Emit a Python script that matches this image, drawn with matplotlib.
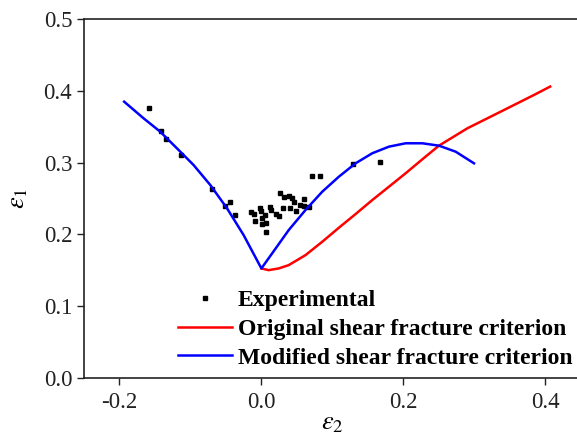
"""Deformación límite: puntos experimentales frente a los dos criterios de fractura por cizalla."""
import matplotlib
matplotlib.use("Agg")
import matplotlib.pyplot as plt

plt.rcParams["font.family"] = ["Liberation Serif", "DejaVu Serif"]
plt.rcParams["mathtext.fontset"] = "stix"

# puntos experimentales (eps2, eps1)
exp_e2 = [-0.1585, -0.1411, -0.1345, -0.1129, -0.0692, -0.0447, -0.0512, -0.0367,
          -0.0151, -0.0099, -0.0024, -0.0010, -0.0095, 0.0010, 0.0056, 0.0117,
          0.0137, 0.0010, 0.0071, 0.0071, 0.0207, 0.0244, 0.0306, 0.0268,
          0.0325, 0.0385, 0.0433, 0.0456, 0.0409, 0.0494, 0.0597, 0.0550,
          0.0607, 0.0668, 0.0720, 0.0819, 0.1284, 0.1666]
exp_e1 = [0.3757, 0.3437, 0.3333, 0.3110, 0.2632, 0.2455, 0.2399, 0.2265,
          0.2307, 0.2283, 0.2363, 0.2329, 0.2185, 0.2232, 0.2269, 0.2377,
          0.2339, 0.2144, 0.2153, 0.2036, 0.2283, 0.2255, 0.2363, 0.2580,
          0.2516, 0.2534, 0.2502, 0.2455, 0.2363, 0.2329, 0.2488, 0.2409,
          0.2395, 0.2377, 0.2813, 0.2813, 0.2985, 0.3010]

# criterio original
orig_e2 = [0.0, 0.0103, 0.0244, 0.0385, 0.0621, 0.0857, 0.1091, 0.1327, 0.1562,
           0.1797, 0.2032, 0.2268, 0.2502, 0.2903, 0.3373, 0.3843, 0.4069]
orig_e1 = [0.1526, 0.1502, 0.1526, 0.1572, 0.1711, 0.1897, 0.2092, 0.2283, 0.2478,
           0.2664, 0.2851, 0.3046, 0.3236, 0.3478, 0.3710, 0.3943, 0.4059]

# criterio modificado
mod_e2 = [-0.1934, -0.1661, -0.1426, -0.1190, -0.0956, -0.0720, -0.0484, -0.0250,
          0.0, 0.0151, 0.0385, 0.0621, 0.0857, 0.1091, 0.1327, 0.1562, 0.1797,
          0.2032, 0.2268, 0.2502, 0.2738, 0.2996]
mod_e1 = [0.3849, 0.3618, 0.3431, 0.3199, 0.2967, 0.2688, 0.2363, 0.1990,
          0.1526, 0.1735, 0.2060, 0.2339, 0.2594, 0.2803, 0.2990, 0.3130, 0.3222,
          0.3269, 0.3269, 0.3236, 0.3152, 0.2990]

xticks = [-0.2, 0.0, 0.2, 0.4]
yticks = [0.0, 0.1, 0.2, 0.3, 0.4, 0.5]

fig = plt.figure(figsize=(5.77, 4.38), dpi=100)
ax = fig.add_axes([0.1455, 0.137, 0.861, 0.8196])

ax.plot(exp_e2, exp_e1, ls="none", marker="s", ms=3.4, color="black",
        label="Experimental")
ax.plot(orig_e2, orig_e1, color="#ff0000", lw=1.8, solid_joinstyle="round",
        label="Original shear fracture criterion")
ax.plot(mod_e2, mod_e1, color="#0000ff", lw=1.8, solid_joinstyle="round",
        label="Modified shear fracture criterion")

ax.set_xlim(-0.25, 0.45)
ax.set_ylim(0.0, 0.5)
ax.set_xticks(xticks)
ax.set_yticks(yticks)
ax.set_xticklabels([f"{t:.1f}" for t in xticks])
ax.set_yticklabels([f"{t:.1f}" for t in yticks])
ax.tick_params(direction="out", length=5, width=1, labelsize=16.5, colors="#222222")
ax.tick_params(axis="x", pad=5)
ax.spines["right"].set_visible(False)
for s in ["left", "top", "bottom"]:
    ax.spines[s].set_linewidth(1.2)
    ax.spines[s].set_color("#222222")

ax.set_xlabel(r"$\varepsilon_2$", fontsize=19, labelpad=0)
ax.set_ylabel(r"$\varepsilon_1$", fontsize=19, labelpad=10)

leg = ax.legend(loc="lower left", bbox_to_anchor=(0.17, 0.0), frameon=False,
                prop={"family": "Liberation Serif", "weight": "bold", "size": 17},
                handlelength=2.3, handletextpad=0.25, labelspacing=0.3,
                borderaxespad=0.0)

fig.savefig("out.png", dpi=100)
